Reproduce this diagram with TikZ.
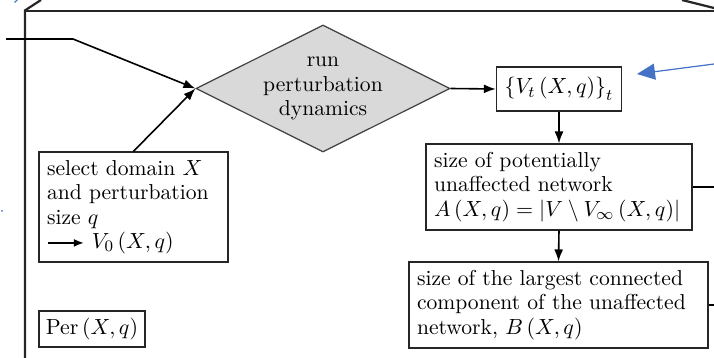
\documentclass[tikz,border=0pt]{standalone}
\usetikzlibrary{shapes.geometric,arrows.meta}
\definecolor{noteblue}{RGB}{68,114,196}
\begin{document}
\begin{tikzpicture}[x=1pt,y=-1pt,
  every node/.style={font=\fontsize{10.8pt}{12.25pt}\selectfont},
  box/.style={draw=black!85,line width=0.7pt,inner sep=4pt,align=left},
  frame/.style={line width=1.1pt,draw=black!85},
  conn/.style={line width=0.8pt,-{Latex[length=6pt,width=4.5pt]}},
  plain/.style={line width=0.8pt},
  note/.style={draw=noteblue,line width=0.6pt}]
\useasboundingbox (0,0) rectangle (357,179);
% frame
\draw[frame] (20.5,0) -- (12.5,5.2) -- (12.5,179);
\draw[frame] (12.5,5.5) -- (357,5.5);
\draw[frame] (341,0) -- (357,4);
% nodes
\node[draw=black!75,line width=0.6pt,fill=black!15,shape=diamond,aspect=2,inner sep=0pt,
  minimum width=127pt,minimum height=63.5pt,align=center] (dyn) at (161.5,44.25)
  {run\\perturbation\\dynamics};
\node[box,minimum width=62.5pt,minimum height=22pt,align=center] (vt) at (279.5,44.5)
  {$\left\{V_t\left(X,q\right)\right\}_t$};
\node[box,text width=86.5pt,minimum height=55pt] (sel) at (66.75,103.5)
  {select domain $X$\\ and perturbation\\ size $q$\\
   \tikz[baseline=-0.6ex]\draw[line width=0.8pt,-{Latex[length=5pt,width=4pt]}] (0pt,0pt) -- (18pt,0pt);\ $V_0\left(X,q\right)$};
\node[box,minimum width=53pt,minimum height=18pt,inner sep=2pt,align=center] (per) at (46,164.5)
  {$\mathrm{Per}\left(X,q\right)$};
\node[box,text width=125pt,minimum height=42pt] (ua) at (279.5,93.5)
  {size of potentially\\ unaffected network\\
   $A\left(X,q\right)=\left|V\setminus V_\infty\left(X,q\right)\right|$};
\node[box,text width=141.5pt,minimum height=42pt] (lc) at (279.25,152.5)
  {size of the largest connected\\ component of the unaffected\\
   network, $B\left(X,q\right)$};
% connectors
\coordinate (in0) at (3,19.5);
\coordinate (in1) at (36.5,19.5);
\coordinate (outA) at (357,93.5);
\coordinate (outB) at (357,152.5);
\draw[conn] (in0) -- (in1) -- (dyn.west);
\draw[conn] (sel.north) -- (dyn.west);
\draw[conn] (dyn.east) -- (vt.west);
\draw[conn] (vt.south) -- (ua.north);
\draw[conn] (ua.south) -- (lc.north);
\draw[plain] (ua.east) -- (outA);
\draw[plain] (lc.east) -- (outB);
% blue annotations
\coordinate (bt) at (357,32);
\coordinate (bh) at (318.5,37);
\draw[note,-{Triangle[length=9pt,width=8pt]},fill=noteblue] (bt) -- (bh);
\draw[note] (7.3,1.2) -- (8.6,0);
\fill[noteblue] (1,105.5) circle (0.5pt);
\end{tikzpicture}
\end{document}
